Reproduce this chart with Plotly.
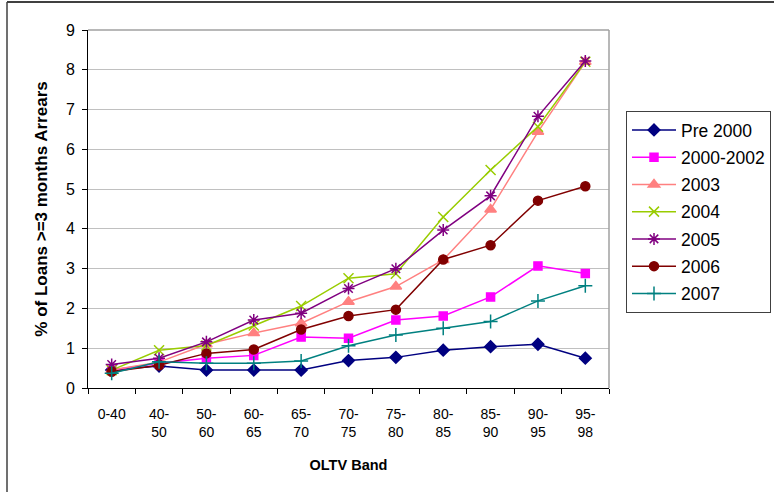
import plotly.graph_objects as go

categories = ["0-40", "40-<br>50", "50-<br>60", "60-<br>65", "65-<br>70", "70-<br>75",
              "75-<br>80", "80-<br>85", "85-<br>90", "90-<br>95", "95-<br>98"]

pre2000 = [0.45, 0.55, 0.45, 0.45, 0.45, 0.69, 0.77, 0.95, 1.04, 1.10, 0.75]
y2000_2002 = [0.45, 0.62, 0.75, 0.82, 1.28, 1.25, 1.71, 1.81, 2.29, 3.07, 2.88]
y2003 = [0.45, 0.65, 1.10, 1.38, 1.63, 2.17, 2.55, 3.22, 4.49, 6.44, 8.20]
y2004 = [0.45, 0.95, 1.07, 1.57, 2.06, 2.76, 2.87, 4.30, 5.48, 6.57, 8.20]
y2005 = [0.59, 0.75, 1.16, 1.71, 1.88, 2.50, 3.00, 3.97, 4.83, 6.83, 8.22]
y2006 = [0.41, 0.57, 0.87, 0.97, 1.47, 1.81, 1.97, 3.23, 3.59, 4.71, 5.07]
y2007 = [0.37, 0.66, 0.62, 0.62, 0.68, 1.06, 1.33, 1.50, 1.67, 2.19, 2.57]

series = [
    ("Pre 2000", pre2000, "#000080", "diamond", 9),
    ("2000-2002", y2000_2002, "#FF00FF", "square", 8),
    ("2003", y2003, "#FF8080", "triangle-up", 10),
    ("2004", y2004, "#99CC00", "x-thin-open", 10),
    ("2005", y2005, "#800080", "asterisk-open", 10),
    ("2006", y2006, "#800000", "circle", 9),
    ("2007", y2007, "#008080", "cross-thin-open", 10),
]

fig = go.Figure()
for i, (name, vals, color, sym, size) in enumerate(series):
    fig.add_trace(go.Scatter(
        x=categories, y=vals, name=name, mode="lines+markers",
        legendgroup=f"g{i}",
        line=dict(color=color, width=1.5),
        marker=dict(symbol=sym, size=size, color=color,
                    line=dict(color=color, width=1.5)),
    ))

L, R, T, B = 88, 165, 30, 104
W, H = 774, 492
pw, ph = W - L - R, H - T - B

def px(x):
    return (x - L) / pw

def py(y):
    return (H - B - y) / ph

fig.update_layout(
    width=W, height=H,
    margin=dict(l=L, r=R, t=T, b=B, pad=0, autoexpand=False),
    paper_bgcolor="white", plot_bgcolor="white",
    font=dict(family="Liberation Sans, Arial, sans-serif", size=14, color="black"),
    showlegend=True,
    legend=dict(
        x=px(626), y=py(111), xanchor="left", yanchor="top",
        bordercolor="#404040", borderwidth=1, bgcolor="white",
        font=dict(size=17.5), tracegroupgap=1.5, traceorder="grouped",
        itemwidth=44,
    ),
    xaxis=dict(
        type="category", range=[-0.5, 10.5],
        showline=True, linecolor="black", linewidth=1,
        ticks="outside", ticklen=5, tickcolor="black", tickson="boundaries",
        showgrid=False, tickfont=dict(size=14), ticklabelstandoff=13,
        title=dict(text="<b>OLTV Band</b>", font=dict(size=14.5), standoff=20),
        mirror=False,
    ),
    yaxis=dict(
        range=[0, 9], dtick=1,
        showline=True, linecolor="black", linewidth=1,
        ticks="outside", ticklen=5, tickcolor="black",
        showgrid=True, gridcolor="#c0c0c0", gridwidth=1,
        tickfont=dict(size=16), ticklabelstandoff=4,
        title=dict(text="<b>% of Loans >=3 months Arrears</b>", font=dict(size=17), standoff=13),
        zeroline=False,
    ),
    shapes=[
        dict(type="line", xref="paper", yref="paper", x0=0, x1=1, y0=1, y1=1,
             line=dict(color="#a0a0a0", width=1.5)),
        dict(type="line", xref="paper", yref="paper", x0=1, x1=1, y0=0, y1=1,
             line=dict(color="#a0a0a0", width=1.5)),
        dict(type="line", xref="paper", yref="paper", x0=px(7), x1=px(774), y0=py(2), y1=py(2),
             line=dict(color="#404040", width=2)),
        dict(type="line", xref="paper", yref="paper", x0=px(7), x1=px(7), y0=py(2), y1=py(492),
             line=dict(color="#404040", width=1.5)),
    ],
)

fig.write_html("out.html")
